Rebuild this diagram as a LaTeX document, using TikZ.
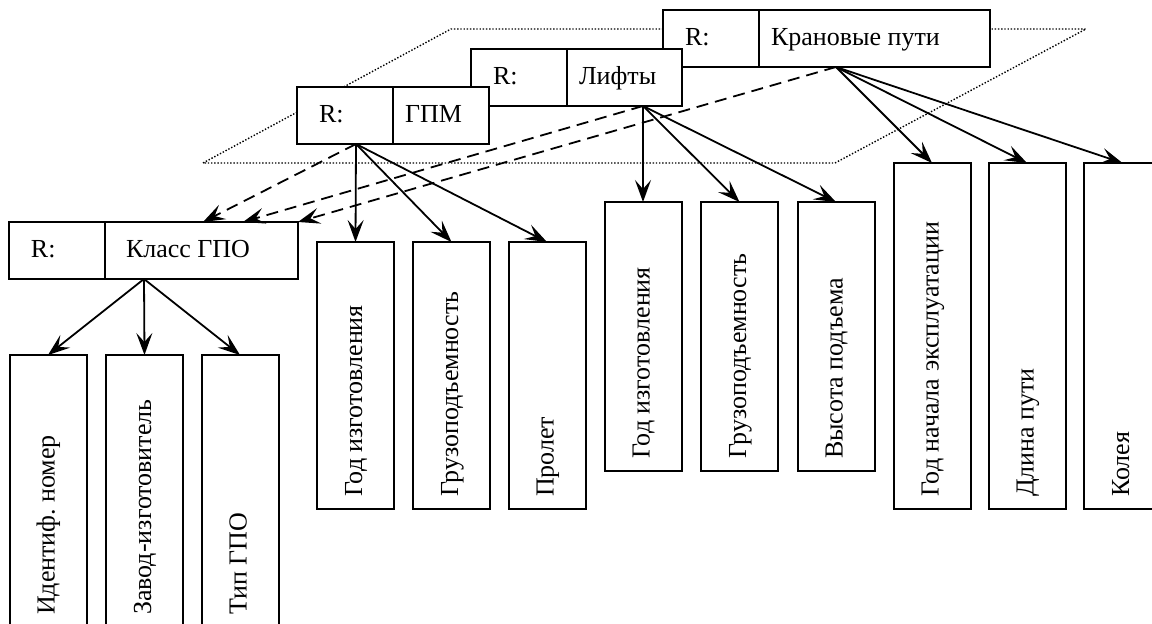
\documentclass[tikz,border=0pt]{standalone}
\usepackage{fontspec}
\setmainfont{Liberation Serif}
\usepackage{tikz}
\usetikzlibrary{arrows.meta,positioning,calc}
\tikzset{
  rcell/.style={draw,fill=white,line width=1pt,outer sep=0pt,minimum height=28.5pt,text height=9.5pt,text depth=2.5pt,text width=26pt,align=flush left,inner xsep=11pt,inner ysep=0pt},
  ncell/.style={draw,fill=white,line width=1pt,outer sep=0pt,minimum height=28.5pt,text height=9.5pt,text depth=2.5pt,text width=#1,align=flush left,inner xsep=6pt,inner ysep=0pt},
  attr/.style={draw,fill=white,line width=1pt,outer sep=0pt,rotate=90,minimum height=38.5pt,text height=9.5pt,text depth=3pt,text width=#1,align=flush left,inner xsep=6pt,inner ysep=0pt},
  arr/.style={-{Stealth[length=11pt,width=8pt,inset=4.5pt]},line width=0.9pt},
  darr/.style={arr,dash pattern=on 6pt off 3.5pt},
  plane/.style={line width=0.7pt,dash pattern=on 0.7pt off 0.9pt}
}

\begin{document}
\begin{tikzpicture}[x=0.5pt,y=-0.5pt,font=\fontsize{13}{15}\selectfont]
  \useasboundingbox (0,0) rectangle (1152,624);
  \clip (0,0) rectangle (1152,624);
  % coordinates in pixels of a 1152x624 frame, y downwards
  \draw[plane] (203,163) -- (451,29) -- (1086,29) -- (835,163) -- cycle;

  \node[rcell,anchor=north west] (craneR) at (663,10) {R:};
  \node[ncell=103.5pt,right=0pt of craneR] (craneN) {Крановые пути};
  \node[rcell,anchor=north west] (liftR) at (471,49) {R:};
  \node[ncell=45.5pt,right=0pt of liftR] (liftN) {Лифты};
  \node[rcell,anchor=north west] (gpmR) at (297,87) {R:};
  \node[ncell=36pt,right=0pt of gpmR] (gpmN) {ГПМ};
  \node[rcell,anchor=north west] (klassR) at (9,222) {R:};
  \node[ncell=75.5pt,inner xsep=10.5pt,right=0pt of klassR] (klassN) {Класс ГПО};

  \coordinate (craneOut) at ([xshift=38.5pt]craneN.south west);
  \coordinate (liftOut) at ([xshift=38pt]liftN.south west);
  \coordinate (gpmOut) at ([xshift=-18.5pt]gpmR.south east);
  \coordinate (klassOut) at ([xshift=19.5pt]klassN.south west);
  \coordinate (klassIn1) at ([xshift=49pt]klassN.north west);
  \coordinate (klassIn2) at ([xshift=69pt]klassN.north west);

  \node[attr=124pt,anchor=east] (kId) at (48,355) {Идентиф.\ номер};
  \node[attr=124pt,anchor=east] (kZavod) at (144.5,355) {Завод-изготовитель};
  \node[attr=124pt,anchor=east] (kTip) at (240,355) {Тип ГПО};

  \node[attr=121.5pt,anchor=east] (gYear) at (355.5,242) {Год изготовления};
  \node[attr=121.5pt,anchor=east] (gLoad) at (451.5,242) {Грузоподъемность};
  \node[attr=121.5pt,anchor=east] (gSpan) at (547,242) {Пролет};

  \node[attr=122.5pt,anchor=east] (lYear) at (643,202) {Год изготовления};
  \node[attr=122.5pt,anchor=east] (lLoad) at (739.5,202) {Грузоподъемность};
  \node[attr=122.5pt,anchor=east] (lHeight) at (836,202) {Высота подъема};

  \node[attr=161pt,anchor=east] (cStart) at (932,163) {Год начала эксплуатации};
  \node[attr=161pt,anchor=east] (cLength) at (1027,163) {Длина пути};
  \node[attr=161pt,anchor=east] (cGauge) at (1122.5,163) {Колея};

  \draw[arr] (klassOut) -- (kId.east);
  \draw[arr] (klassOut) -- (kZavod.east);
  \draw[arr] (klassOut) -- (kTip.east);
  \draw[arr] (gpmOut) -- (gYear.east);
  \draw[arr] (gpmOut) -- (gLoad.east);
  \draw[arr] (gpmOut) -- (gSpan.east);
  \draw[arr] (liftOut) -- (lYear.east);
  \draw[arr] (liftOut) -- (lLoad.east);
  \draw[arr] (liftOut) -- (lHeight.east);
  \draw[arr] (craneOut) -- (cStart.east);
  \draw[arr] (craneOut) -- (cLength.east);
  \draw[arr] (craneOut) -- (cGauge.east);

  \draw[darr] (gpmOut) -- (klassIn1);
  \draw[darr] (liftOut) -- (klassIn2);
  \draw[darr] (craneOut) -- (klassN.north east);
\end{tikzpicture}
\end{document}
